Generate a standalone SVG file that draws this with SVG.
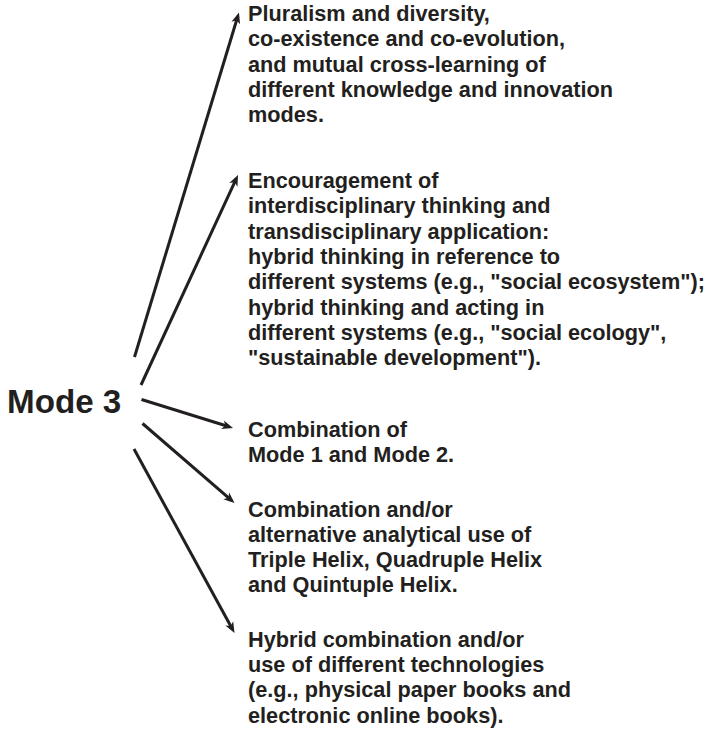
<svg xmlns="http://www.w3.org/2000/svg" width="708" height="731" viewBox="0 0 708 731">
<style>
.t{font-family:"Liberation Sans",Arial,sans-serif;font-weight:bold;font-size:21.7px;fill:#231f20}
.m{font-family:"Liberation Sans",Arial,sans-serif;font-weight:bold;font-size:33.2px;fill:#231f20}
.c{stroke:#231f20;stroke-width:3;fill:none;marker-end:url(#ah)}
</style>
<defs>
<marker id="ah" markerUnits="userSpaceOnUse" markerWidth="14" markerHeight="12" viewBox="0 -6 12 12" refX="7" refY="0" orient="auto">
<path d="M0,-4.5 L11,0 L0,4.5 L3,0 Z" fill="#231f20"/>
</marker>
</defs>
<rect width="708" height="731" fill="#ffffff"/>
<g id="connectors">
<line class="c" x1="134.5" y1="357" x2="237.8" y2="16.3"/>
<line class="c" x1="141" y1="385" x2="236.3" y2="178.6"/>
<line class="c" x1="141.5" y1="399.5" x2="229.2" y2="426.8"/>
<line class="c" x1="142.5" y1="423.5" x2="231.5" y2="500.4"/>
<line class="c" x1="134" y1="449" x2="232.6" y2="629.5"/>
</g>
<g id="mode3">
<text class="m" x="7" y="413">Mode 3</text>
</g>
<g id="n1">
<text class="t" x="248" y="21">Pluralism and diversity,</text>
<text class="t" x="248" y="46.3">co-existence and co-evolution,</text>
<text class="t" x="248" y="71.6">and mutual cross-learning of</text>
<text class="t" x="248" y="96.9">different knowledge and innovation</text>
<text class="t" x="248" y="122.2">modes.</text>
</g>
<g id="n2">
<text class="t" x="248" y="188">Encouragement of</text>
<text class="t" x="248" y="213.3">interdisciplinary thinking and</text>
<text class="t" x="248" y="238.6">transdisciplinary application:</text>
<text class="t" x="248" y="263.9">hybrid thinking in reference to</text>
<text class="t" x="248" y="289.2">different systems (e.g., "social ecosystem");</text>
<text class="t" x="248" y="314.5">hybrid thinking and acting in</text>
<text class="t" x="248" y="339.8">different systems (e.g., "social ecology",</text>
<text class="t" x="248" y="365.1">"sustainable development").</text>
</g>
<g id="n3">
<text class="t" x="248" y="436.5">Combination of</text>
<text class="t" x="248" y="461.8">Mode 1 and Mode 2.</text>
</g>
<g id="n4">
<text class="t" x="248" y="516.5">Combination and/or</text>
<text class="t" x="248" y="541.8">alternative analytical use of</text>
<text class="t" x="248" y="567.1">Triple Helix, Quadruple Helix</text>
<text class="t" x="248" y="592.4">and Quintuple Helix.</text>
</g>
<g id="n5">
<text class="t" x="248" y="646.8">Hybrid combination and/or</text>
<text class="t" x="248" y="672.1">use of different technologies</text>
<text class="t" x="248" y="697.4">(e.g., physical paper books and</text>
<text class="t" x="248" y="722.7">electronic online books).</text>
</g>
</svg>
